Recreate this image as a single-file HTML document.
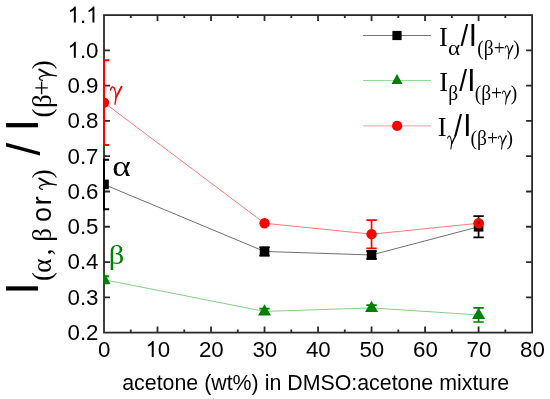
<!DOCTYPE html>
<html><head><meta charset="utf-8"><style>
html,body{margin:0;padding:0;background:#fff;width:550px;height:399px;overflow:hidden}
svg{display:block;font-family:"Liberation Sans",sans-serif;will-change:transform}
</style></head><body>
<svg width="550" height="399" viewBox="0 0 550 399">
<defs><clipPath id="pc"><rect x="103.0" y="14.1" width="430.1" height="319.5"/></clipPath></defs>
<rect width="550" height="399" fill="#fff"/>
<rect x="104.0" y="15.1" width="428.1" height="317.5" fill="none" stroke="#2a2a2a" stroke-width="1.8"/>
<path d="M157.51 332.60v-6M157.51 15.10v6M211.03 332.60v-6M211.03 15.10v6M264.54 332.60v-6M264.54 15.10v6M318.05 332.60v-6M318.05 15.10v6M371.56 332.60v-6M371.56 15.10v6M425.07 332.60v-6M425.07 15.10v6M478.59 332.60v-6M478.59 15.10v6M130.76 332.60v-3M130.76 15.10v3M184.27 332.60v-3M184.27 15.10v3M237.78 332.60v-3M237.78 15.10v3M291.29 332.60v-3M291.29 15.10v3M344.81 332.60v-3M344.81 15.10v3M398.32 332.60v-3M398.32 15.10v3M451.83 332.60v-3M451.83 15.10v3M505.34 332.60v-3M505.34 15.10v3M104.00 297.32h6M532.10 297.32h-6M104.00 262.04h6M532.10 262.04h-6M104.00 226.77h6M532.10 226.77h-6M104.00 191.49h6M532.10 191.49h-6M104.00 156.21h6M532.10 156.21h-6M104.00 120.93h6M532.10 120.93h-6M104.00 85.66h6M532.10 85.66h-6M104.00 50.38h6M532.10 50.38h-6" stroke="#2a2a2a" stroke-width="1.8" fill="none"/>
<g clip-path="url(#pc)">
<polyline points="104.00,184.43 264.54,251.46 371.56,254.99 478.59,226.77" fill="none" stroke="#707070" stroke-width="1"/>
<polyline points="104.00,279.68 264.54,311.43 371.56,307.91 478.59,314.96" fill="none" stroke="#86cf86" stroke-width="1"/>
<polyline points="104.00,102.59 264.54,223.24 371.56,234.18 478.59,223.24" fill="none" stroke="#ff7a7a" stroke-width="1"/>
<path d="M104.00 159.74V209.13M98.80 159.74h10.40M98.80 209.13h10.40" stroke="#000" stroke-width="2.0" fill="none"/><path d="M264.54 247.23V255.69M259.34 247.23h10.40M259.34 255.69h10.40" stroke="#000" stroke-width="1.7" fill="none"/><path d="M371.56 251.11V258.87M366.36 251.11h10.40M366.36 258.87h10.40" stroke="#000" stroke-width="1.7" fill="none"/><path d="M478.59 216.18V237.35M473.39 216.18h10.40M473.39 237.35h10.40" stroke="#000" stroke-width="1.7" fill="none"/>
<path d="M104.00 276.16V283.21M98.80 276.16h10.40M98.80 283.21h10.40" stroke="#008000" stroke-width="2.0" fill="none"/><path d="M264.54 308.61V314.26M259.34 308.61h10.40M259.34 314.26h10.40" stroke="#008000" stroke-width="1.7" fill="none"/><path d="M371.56 305.08V310.73M366.36 305.08h10.40M366.36 310.73h10.40" stroke="#008000" stroke-width="1.7" fill="none"/><path d="M478.59 307.91V322.02M473.39 307.91h10.40M473.39 322.02h10.40" stroke="#008000" stroke-width="1.7" fill="none"/>
<rect x="99.20" y="179.63" width="9.60" height="9.60" fill="#000"/>
<rect x="259.74" y="246.66" width="9.60" height="9.60" fill="#000"/>
<rect x="366.76" y="250.19" width="9.60" height="9.60" fill="#000"/>
<rect x="473.79" y="221.97" width="9.60" height="9.60" fill="#000"/>
<polygon points="104.00,272.45 97.50,283.75 110.50,283.75" fill="#008000"/>
<polygon points="264.54,304.20 258.04,315.50 271.04,315.50" fill="#008000"/>
<polygon points="371.56,300.67 365.06,311.97 378.06,311.97" fill="#008000"/>
<polygon points="478.59,307.73 472.09,319.03 485.09,319.03" fill="#008000"/>
<path d="M104.00 60.26V144.92M98.80 60.26h10.40M98.80 144.92h10.40" stroke="#ff0000" stroke-width="2.0" fill="none"/><path d="M371.56 220.06V248.29M366.36 220.06h10.40M366.36 248.29h10.40" stroke="#ff0000" stroke-width="1.7" fill="none"/>
<circle cx="104.00" cy="102.59" r="5.20" fill="#ff0000"/>
<circle cx="264.54" cy="223.24" r="5.20" fill="#ff0000"/>
<circle cx="371.56" cy="234.18" r="5.20" fill="#ff0000"/>
<circle cx="478.59" cy="223.24" r="5.20" fill="#ff0000"/>
<rect x="477.79" y="221.24" width="1.6" height="3" fill="#300"/>
</g>
<g font-family="Liberation Sans" font-size="22.3" fill="#000">
<text x="67.50" y="340.00">0</text><text x="79.90" y="340.00">.</text><text x="86.10" y="340.00">2</text>
<text x="67.50" y="304.72">0</text><text x="79.90" y="304.72">.</text><text x="86.10" y="304.72">3</text>
<text x="67.50" y="269.44">0</text><text x="79.90" y="269.44">.</text><text x="86.10" y="269.44">4</text>
<text x="67.50" y="234.17">0</text><text x="79.90" y="234.17">.</text><text x="86.10" y="234.17">5</text>
<text x="67.50" y="198.89">0</text><text x="79.90" y="198.89">.</text><text x="86.10" y="198.89">6</text>
<text x="67.50" y="163.61">0</text><text x="79.90" y="163.61">.</text><text x="86.10" y="163.61">7</text>
<text x="67.50" y="128.33">0</text><text x="79.90" y="128.33">.</text><text x="86.10" y="128.33">8</text>
<text x="67.50" y="93.06">0</text><text x="79.90" y="93.06">.</text><text x="86.10" y="93.06">9</text>
<path transform="translate(67.50 57.78) scale(0.01089 -0.01089)" d="M763 0H583V1147Q518 1085 412 1023Q306 961 222 930V1104Q373 1175 486 1276Q599 1377 646 1472H763Z"/><text x="79.90" y="57.78">.</text><text x="86.10" y="57.78">0</text>
<path transform="translate(67.50 22.50) scale(0.01089 -0.01089)" d="M763 0H583V1147Q518 1085 412 1023Q306 961 222 930V1104Q373 1175 486 1276Q599 1377 646 1472H763Z"/><text x="79.90" y="22.50">.</text><path transform="translate(86.10 22.50) scale(0.01089 -0.01089)" d="M763 0H583V1147Q518 1085 412 1023Q306 961 222 930V1104Q373 1175 486 1276Q599 1377 646 1472H763Z"/>
<text x="98.10" y="357.00">0</text>
<path transform="translate(145.41 357.00) scale(0.01089 -0.01089)" d="M763 0H583V1147Q518 1085 412 1023Q306 961 222 930V1104Q373 1175 486 1276Q599 1377 646 1472H763Z"/><text x="157.81" y="357.00">0</text>
<text x="198.93" y="357.00">2</text><text x="211.33" y="357.00">0</text>
<text x="252.44" y="357.00">3</text><text x="264.84" y="357.00">0</text>
<text x="305.95" y="357.00">4</text><text x="318.35" y="357.00">0</text>
<text x="359.46" y="357.00">5</text><text x="371.86" y="357.00">0</text>
<text x="412.98" y="357.00">6</text><text x="425.38" y="357.00">0</text>
<text x="466.49" y="357.00">7</text><text x="478.89" y="357.00">0</text>
<text x="520.00" y="357.00">8</text><text x="532.40" y="357.00">0</text>
</g>
<text x="122.20" y="389.80" font-family="Liberation Sans" font-size="21.36" fill="#000">acetone (wt%) in DMSO:acetone mixture</text>
<g transform="translate(110.00 99.10) scale(0.02750)" fill="#ff0000" stroke="#ff0000"><path d="M18 -330 Q40 -448 100 -440 Q165 -430 200 -250 L226 -80" fill="none" stroke-width="48" stroke-linecap="round"/><path d="M420 -448 L226 -80" fill="none" stroke-width="70" stroke-linecap="round"/><path d="M196 -100 L260 -100 L204 196 Q186 228 158 200 Z" stroke="none"/></g>
<text transform="translate(112.2 176.0) scale(1.19 1)" font-family="Liberation Serif" font-size="29.6" fill="#000">α</text>
<text transform="translate(108.7 263.5) scale(1.1 1)" font-family="Liberation Serif" font-size="27.8" fill="#008000">β</text>
<g transform="translate(38.2 294.7) rotate(-90)" fill="#000">
<text x="0.00" y="0" font-family="Liberation Sans" font-size="45.5">I</text>
<g transform="translate(0 13.1)">
<text x="13.60" y="0" font-family="Liberation Serif" font-size="27">(</text>
<text x="22.05" y="0" font-family="Liberation Serif" font-size="27">α</text>
<text x="39.35" y="0" font-family="Liberation Serif" font-size="27">,</text>
<text x="52.90" y="0" font-family="Liberation Serif" font-size="27">β</text>
<g transform="translate(104.90 0.00) scale(0.02700)" fill="#000" stroke="#000"><path d="M18 -330 Q40 -448 100 -440 Q165 -430 200 -250 L226 -80" fill="none" stroke-width="48" stroke-linecap="round"/><path d="M420 -448 L226 -80" fill="none" stroke-width="70" stroke-linecap="round"/><path d="M196 -100 L260 -100 L204 196 Q186 228 158 200 Z" stroke="none"/></g>
<text x="116.50" y="0" font-family="Liberation Serif" font-size="27">)</text>
<text x="177.30" y="0" font-family="Liberation Serif" font-size="27">(</text>
<text x="186.60" y="0" font-family="Liberation Serif" font-size="27">β</text>
<text x="199.30" y="0" font-family="Liberation Serif" font-size="27">+</text>
<g transform="translate(213.90 0.00) scale(0.02700)" fill="#000" stroke="#000"><path d="M18 -330 Q40 -448 100 -440 Q165 -430 200 -250 L226 -80" fill="none" stroke-width="48" stroke-linecap="round"/><path d="M420 -448 L226 -80" fill="none" stroke-width="70" stroke-linecap="round"/><path d="M196 -100 L260 -100 L204 196 Q186 228 158 200 Z" stroke="none"/></g>
<text x="225.40" y="0" font-family="Liberation Serif" font-size="27">)</text>
<text x="72.80" y="0" font-family="Liberation Sans" font-size="27">o</text>
<text x="89.50" y="0" font-family="Liberation Sans" font-size="27">r</text>
</g>
<g transform="translate(0 1.5)"><text x="139.20" y="0" font-family="Liberation Sans" font-size="45.5">/</text></g>
<text x="163.30" y="0" font-family="Liberation Sans" font-size="45.5">I</text>
</g>
<line x1="363" y1="35.5" x2="431" y2="35.5" stroke="#777777" stroke-width="1"/>
<rect x="392.40" y="30.90" width="9.20" height="9.20" fill="#000"/>
<g transform="translate(0 46.00) scale(1 1.070)" fill="#000">
<text x="439.05" y="0.00" font-family="Liberation Serif" font-size="26.5" fill="#000">I</text>
<text transform="translate(448.12 8.41) scale(1.19 1)" font-family="Liberation Serif" font-size="19.5">α</text>
<text x="460.60" y="0.00" font-family="Liberation Sans" font-size="28" fill="#000">/</text>
<text x="468.69" y="0.00" font-family="Liberation Sans" font-size="29.5" fill="#000">I</text>
<text x="477.24" y="8.41" font-family="Liberation Serif" font-size="19.5" fill="#000">(β+</text>
<g transform="translate(504.66 8.41) scale(0.01950)" fill="#000" stroke="#000"><path d="M18 -330 Q40 -448 100 -440 Q165 -430 200 -250 L226 -80" fill="none" stroke-width="48" stroke-linecap="round"/><path d="M420 -448 L226 -80" fill="none" stroke-width="70" stroke-linecap="round"/><path d="M196 -100 L260 -100 L204 196 Q186 228 158 200 Z" stroke="none"/></g>
<text x="513.28" y="8.41" font-family="Liberation Serif" font-size="19.5" fill="#000">)</text>
</g>
<line x1="363" y1="80.5" x2="431" y2="80.5" stroke="#9ad89a" stroke-width="1"/>
<polygon points="397.00,74.10 391.50,84.10 402.50,84.10" fill="#008000"/>
<g transform="translate(0 91.20) scale(1 1.070)" fill="#000">
<text x="439.15" y="0.00" font-family="Liberation Serif" font-size="26.5" fill="#000">I</text>
<text x="448.35" y="8.41" font-family="Liberation Serif" font-size="19.5" fill="#000">β</text>
<text x="459.30" y="0.00" font-family="Liberation Sans" font-size="28" fill="#000">/</text>
<text x="467.29" y="0.00" font-family="Liberation Sans" font-size="29.5" fill="#000">I</text>
<text x="474.64" y="8.41" font-family="Liberation Serif" font-size="19.5" fill="#000">(β+</text>
<g transform="translate(502.06 8.41) scale(0.01950)" fill="#000" stroke="#000"><path d="M18 -330 Q40 -448 100 -440 Q165 -430 200 -250 L226 -80" fill="none" stroke-width="48" stroke-linecap="round"/><path d="M420 -448 L226 -80" fill="none" stroke-width="70" stroke-linecap="round"/><path d="M196 -100 L260 -100 L204 196 Q186 228 158 200 Z" stroke="none"/></g>
<text x="510.68" y="8.41" font-family="Liberation Serif" font-size="19.5" fill="#000">)</text>
</g>
<line x1="363" y1="125.9" x2="431" y2="125.9" stroke="#ff9a9a" stroke-width="1"/>
<circle cx="397.10" cy="125.90" r="5.10" fill="#ff0000"/>
<g transform="translate(0 136.20) scale(1 1.070)" fill="#000">
<text x="437.85" y="0.00" font-family="Liberation Serif" font-size="26.5" fill="#000">I</text>
<g transform="translate(447.30 8.41) scale(0.01950)" fill="#000" stroke="#000"><path d="M18 -330 Q40 -448 100 -440 Q165 -430 200 -250 L226 -80" fill="none" stroke-width="48" stroke-linecap="round"/><path d="M420 -448 L226 -80" fill="none" stroke-width="70" stroke-linecap="round"/><path d="M196 -100 L260 -100 L204 196 Q186 228 158 200 Z" stroke="none"/></g>
<text x="454.30" y="0.00" font-family="Liberation Sans" font-size="28" fill="#000">/</text>
<text x="463.19" y="0.00" font-family="Liberation Sans" font-size="29.5" fill="#000">I</text>
<text x="470.54" y="8.41" font-family="Liberation Serif" font-size="19.5" fill="#000">(β+</text>
<g transform="translate(497.96 8.41) scale(0.01950)" fill="#000" stroke="#000"><path d="M18 -330 Q40 -448 100 -440 Q165 -430 200 -250 L226 -80" fill="none" stroke-width="48" stroke-linecap="round"/><path d="M420 -448 L226 -80" fill="none" stroke-width="70" stroke-linecap="round"/><path d="M196 -100 L260 -100 L204 196 Q186 228 158 200 Z" stroke="none"/></g>
<text x="506.58" y="8.41" font-family="Liberation Serif" font-size="19.5" fill="#000">)</text>
</g>
</svg>
</body></html>
